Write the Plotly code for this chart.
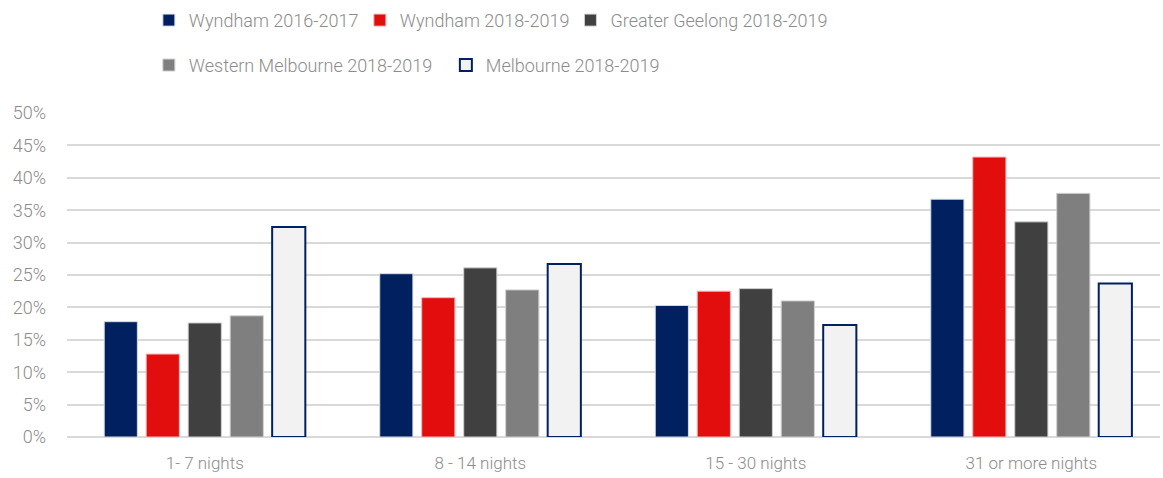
import plotly.graph_objects as go

# Chart data
categories = ["1- 7 nights", "8 - 14 nights", "15 - 30 nights", "31 or more nights"]
series_names = ["Wyndham 2016-2017", "Wyndham 2018-2019", "Greater Geelong 2018-2019",
                "Western Melbourne 2018-2019", "Melbourne 2018-2019"]
wyndham_1617 = [0.178, 0.252, 0.203, 0.367]
wyndham_1819 = [0.128, 0.215, 0.225, 0.432]
geelong_1819 = [0.176, 0.261, 0.229, 0.332]
west_melb_1819 = [0.187, 0.227, 0.210, 0.376]
melbourne_1819 = [0.324, 0.267, 0.173, 0.237]

values = [wyndham_1617, wyndham_1819, geelong_1819, west_melb_1819, melbourne_1819]
fills = ["#002060", "#E20E0E", "#404040", "#7F7F7F", "#F2F2F2"]
outlines = ["#D6DCE5", "#F4B6B6", "#D0D0D0", "#D0D0D0", "#002060"]
outline_w = [1, 1, 1, 1, 2]
# legend rows: row one is split so the last entry keeps its full text
legends = ["legend", "legend", "legend3", "legend2", "legend2"]

font_family = "Roboto, Arial, sans-serif"
grey_text = "#8C8C8C"

fig = go.Figure()
for name, vals, fc, lc, lw, lg in zip(series_names, values, fills, outlines, outline_w, legends):
    fig.add_trace(go.Bar(
        x=categories, y=vals, name=name,
        marker=dict(color=fc, line=dict(color=lc, width=lw)),
        legend=lg,
    ))

legend_style = dict(
    orientation="h", xanchor="left", yanchor="top",
    xref="container", yref="container",
    font=dict(family=font_family, size=18, color=grey_text, weight=300),
    itemwidth=30, tracegroupgap=0,
    bgcolor="rgba(0,0,0,0)",
)

fig.update_layout(
    width=1163, height=478,
    barmode="group", bargap=0.238, bargroupgap=0.21,
    margin=dict(l=67, r=3, t=113, b=41),
    paper_bgcolor="white", plot_bgcolor="white",
    font=dict(family=font_family, size=18, color=grey_text, weight=300),
    legend=dict(x=0.128, y=0.996, entrywidth=166, entrywidthmode="pixels", **legend_style),
    legend3=dict(x=0.4905, y=0.996, **legend_style),
    legend2=dict(x=0.128, y=0.902, entrywidth=252, entrywidthmode="pixels", **legend_style),
    showlegend=True,
)
fig.update_xaxes(
    range=[-0.5, 3.467], showgrid=False, showline=False, automargin=False,
    tickfont=dict(size=17, color=grey_text), ticks="", ticklabelstandoff=14,
)
fig.update_yaxes(
    range=[0, 0.5], dtick=0.05, tickformat=".0%", automargin=False,
    showgrid=True, gridcolor="#D9D9D9", gridwidth=1.5,
    zeroline=True, zerolinecolor="#D9D9D9", zerolinewidth=1.5,
    showline=False, ticks="", ticklabelstandoff=20,
    tickfont=dict(size=18, color=grey_text),
)

fig.write_html("out.html", config={"displayModeBar": False},
               post_script="document.body.style.margin='0';")
